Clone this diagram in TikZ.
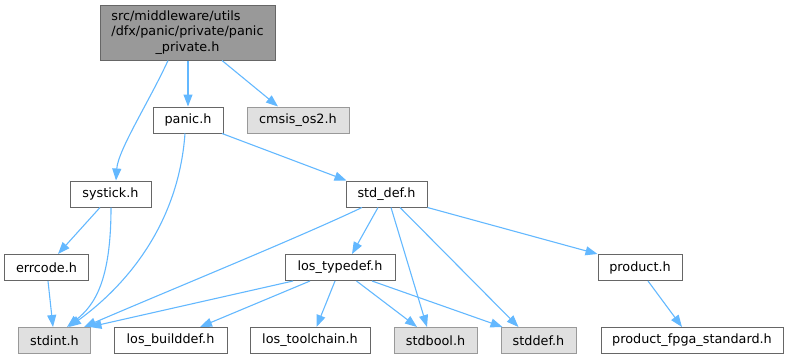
\documentclass[tikz,border=0pt]{standalone}
\usepackage{fontspec}
\setmainfont{DejaVu Sans}
\usetikzlibrary{arrows.meta,calc}
\definecolor{edgeblue}{HTML}{63B8FF}
\definecolor{bordergrey}{HTML}{666666}
\definecolor{lightborder}{HTML}{999999}
\definecolor{sysfill}{HTML}{E0E0E0}
\definecolor{topfill}{HTML}{999999}
\tikzset{
  filebox/.style={draw=bordergrey, fill=white, line width=1bp, minimum height=26bp, inner sep=0pt,
    font=\fontsize{12.8bp}{15.5bp}\selectfont, text=black},
  sysbox/.style={filebox, draw=lightborder, fill=sysfill},
  topbox/.style={filebox, fill=topfill},
  edge/.style={draw=edgeblue, line width=1.1bp, -{Triangle[length=12bp,width=9bp]}, edgeblue},
}
\begin{document}
\begin{tikzpicture}[x=1bp,y=-1bp]
\useasboundingbox (0,0) rectangle (789,359);
% nodes
\node[topbox, minimum width=175bp, minimum height=55bp] (top) at (187.5,32.5)
  {\begin{tabular}{@{}l@{}}src/middleware/utils\\/dfx/panic/private/panic\\\multicolumn{1}{@{}c@{}}{\_private.h}\end{tabular}};
\node[filebox, minimum width=70bp] (panic) at (188,120) {panic.h};
\node[sysbox, minimum width=102bp] (cmsis) at (298,120) {cmsis\_os2.h};
\node[filebox, minimum width=81bp] (systick) at (110.5,194) {systick.h};
\node[filebox, minimum width=81bp] (stddefh) at (386.5,194) {std\_def.h};
\node[filebox, minimum width=83bp] (errcode) at (46.5,267.5) {errcode.h};
\node[filebox, minimum width=110bp] (typedef) at (340,267.5) {los\_typedef.h};
\node[filebox, minimum width=84bp] (product) at (640,267.5) {product.h};
\node[sysbox, minimum width=71bp] (stdint) at (54.5,340.5) {stdint.h};
\node[filebox, minimum width=113bp] (builddef) at (170.5,340.5) {los\_builddef.h};
\node[filebox, minimum width=120bp] (toolchain) at (310,340.5) {los\_toolchain.h};
\node[sysbox, minimum width=83bp] (stdbool) at (435.5,340.5) {stdbool.h};
\node[sysbox, minimum width=75bp] (stddef) at (538.5,340.5) {stddef.h};
\node[filebox, minimum width=182bp] (fpga) at (692,340.5) {product\_fpga\_standard.h};
% edges
\draw[edge] (panic.north |- top.south) -- (panic.north);
\draw[edge] ($(top.south)+(34.5,0)$) -- ($(cmsis.north)+(-20,0)$);
\draw[edge] ($(top.south)+(-19.5,0)$) .. controls (150,100) and (118,150) .. ($(systick.north)+(5.5,0)$);
\draw[edge] ($(panic.south)+(-3,0)$) .. controls (178,230) and (120,290) .. ($(stdint.north)+(14.5,0)$);
\draw[edge] ($(panic.south)+(34,0)$) -- ($(stddefh.north west)+(1,0)$);
\draw[edge] ($(systick.south)+(-10.5,0)$) -- ($(errcode.north)+(11.5,0)$);
\draw[edge] ($(systick.south)+(0.5,0)$) .. controls (111,280) and (95,305) .. ($(stdint.north)+(12.5,0)$);
\draw[edge] ($(errcode.south)+(1.5,0)$) -- ($(stdint.north)+(-1.5,0)$);
\draw[edge] ($(stddefh.south)+(-24.5,0)$) .. controls (300,237) and (170,290) .. ($(stdint.north)+(29.5,0)$);
\draw[edge] ($(typedef.south)+(-47,0)$) -- ($(stdint.north east)+(-1,0)$);
\draw[edge] ($(typedef.south)+(-30,0)$) -- ($(builddef.north)+(29.5,0)$);
\draw[edge] ($(typedef.south)+(-5,0)$) -- ($(toolchain.north)+(6.5,0)$);
\draw[edge] ($(typedef.south)+(16.5,0)$) -- ($(stdbool.north)+(-18.5,0)$);
\draw[edge] ($(typedef.south)+(32,0)$) -- ($(stddef.north west)+(2,0)$);
\draw[edge] ($(stddefh.south)+(-8.5,0)$) -- ($(typedef.north)+(12,0)$);
\draw[edge] ($(stddefh.south)+(4.5,0)$) -- ($(stdbool.north)+(-8.5,0)$);
\draw[edge] ($(stddefh.south)+(13.5,0)$) -- ($(stddef.north)+(-20,0)$);
\draw[edge] (stddefh.south east) -- (product.north west);
\draw[edge] ($(product.south)+(8,0)$) -- ($(fpga.north)+(-10,0)$);
\end{tikzpicture}
\end{document}
